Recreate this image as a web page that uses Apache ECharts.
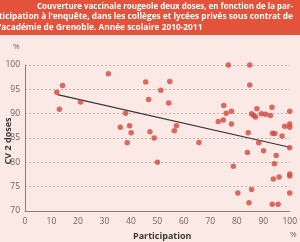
<!DOCTYPE html>
<html>
<head>
<meta charset="utf-8">
<script src="https://cdn.jsdelivr.net/npm/echarts@6/dist/echarts.min.js"></script>
<style>
  html, body { margin: 0; padding: 0; background: #fbe9e6; }
  #chart { width: 300px; height: 242px; }
</style>
</head>
<body>
<div id="chart"></div>
<script>
// participation (%) of each school
const participation = [
  12.0, 14.2, 13.0, 21.0, 31.5, 38.0, 36.0, 39.5, 40.1, 38.6,
  45.6, 54.7, 51.3, 46.7, 54.3, 47.2, 48.8, 56.4, 57.2, 50.0,
  65.7, 73.0, 74.9, 78.0, 75.1, 76.0, 78.0, 76.8, 84.9, 84.9,
  87.6, 85.6, 86.4, 87.1, 89.3, 90.9, 92.7, 93.3, 100, 100,
  98.1, 100, 84.3, 93.5, 94.4, 97.1, 88.3, 100, 90.1, 84.0,
  94.9, 94.2, 78.7, 100, 100, 96.0, 93.8, 85.6, 80.4, 100,
  84.6, 93.4, 95.6
];
// CV 2 doses (%)
const coverage = [
  94.4, 95.8, 90.9, 92.4, 98.2, 90.1, 87.2, 87.5, 86.1, 84.0,
  96.5, 96.6, 94.8, 92.9, 92.2, 86.3, 85.0, 86.5, 87.5, 80.0,
  84.1, 88.4, 88.7, 87.9, 91.7, 90.1, 90.5, 100, 100, 95.9,
  91.0, 90.0, 89.6, 89.3, 90.0, 89.9, 89.6, 91.3, 90.5, 87.9,
  87.4, 87.2, 86.1, 86.0, 85.9, 85.4, 84.0, 83.0, 82.4, 82.0,
  81.4, 79.7, 79.2, 77.6, 77.2, 77.0, 76.6, 74.4, 73.7, 73.7,
  71.7, 71.4, 71.4
];
// trend line end points
const trendX = [12.3, 100];
const trendY = [93.9, 83.1];

const xTicks = [0, 10, 20, 30, 40, 50, 60, 70, 80, 90, 100];
const yTicks = [70, 75, 80, 85, 90, 95, 100];

const titleLines = [
  'Couverture vaccinale rougeole deux doses, en fonction de la par-',
  'ticipation à l\u2019enquête, dans les collèges et lycées privés sous contrat de',
  'l\u2019académie de Grenoble. Année scolaire 2010-2011'
];

const chart = echarts.init(document.getElementById('chart'));

const points = participation.map((p, i) => [p, coverage[i]]);
const trend = trendX.map((x, i) => [x, trendY[i]]);

const labelFont = 'Open Sans, sans-serif';
const titleFontStr = 'bold 9.5px "Open Sans", sans-serif';

// squeeze the title lines horizontally so they fill the bar like the justified original
const ctx = document.createElement('canvas').getContext('2d');
ctx.font = titleFontStr;
const w1 = ctx.measureText(titleLines[0]).width;
const w2 = ctx.measureText(titleLines[1]).width;
const sx1 = 256 / w1;
const sx2 = 294 / w2;

chart.setOption({
  backgroundColor: '#fbe9e6',
  animation: false,
  grid: { left: 25, right: 5, top: 65, bottom: 31 },
  xAxis: {
    type: 'value',
    min: xTicks[0],
    max: xTicks[xTicks.length - 1],
    interval: 10,
    axisLine: { show: true, lineStyle: { color: '#8a7f7d', width: 1 } },
    axisTick: { show: false },
    splitLine: { show: false },
    axisLabel: { color: '#6b6362', fontSize: 8.5, fontFamily: labelFont, margin: 6 }
  },
  yAxis: {
    type: 'value',
    min: yTicks[0],
    max: yTicks[yTicks.length - 1],
    interval: 5,
    axisLine: { show: true, lineStyle: { color: '#8a7f7d', width: 1 } },
    axisTick: { show: false },
    splitLine: { show: true, lineStyle: { color: '#c7b4b1', type: [2, 2], width: 1 } },
    axisLabel: { color: '#6b6362', fontSize: 8.5, fontFamily: labelFont, margin: 5 }
  },
  series: [
    {
      type: 'scatter',
      data: points,
      symbol: 'circle',
      symbolSize: 5.5,
      itemStyle: { color: '#d6463c' },
      z: 3
    },
    {
      type: 'line',
      data: trend,
      symbol: 'none',
      lineStyle: { color: '#333333', width: 1.2 },
      z: 2
    }
  ],
  graphic: [
    { type: 'rect', left: 0, top: 0, shape: { width: 300, height: 35 }, style: { fill: '#e3523a' } },
    { type: 'text', x: 37, y: 6, scaleX: sx1,
      style: { text: titleLines[0], fill: '#fff', font: titleFontStr, verticalAlign: 'middle' } },
    { type: 'text', x: -1, y: 16.5, scaleX: sx2,
      style: { text: titleLines[1], fill: '#fff', font: titleFontStr, verticalAlign: 'middle' } },
    { type: 'text', x: -3, y: 27, scaleX: sx2,
      style: { text: titleLines[2], fill: '#fff', font: titleFontStr, verticalAlign: 'middle' } },
    { type: 'text', left: 13, top: 43, style: { text: '%', fill: '#6b6362', font: '8px ' + labelFont } },
    { type: 'text', left: 290, top: 231, style: { text: '%', fill: '#6b6362', font: '8px ' + labelFont } },
    { type: 'text', left: 133, top: 232, style: { text: 'Participation', fill: '#3d3736', font: 'bold 9px ' + labelFont } },
    { type: 'text', x: 8, y: 141, rotation: Math.PI / 2,
      style: { text: 'CV 2 doses', fill: '#3d3736', font: 'bold 9px ' + labelFont, align: 'center', verticalAlign: 'middle' } }
  ]
});
</script>
</body>
</html>
